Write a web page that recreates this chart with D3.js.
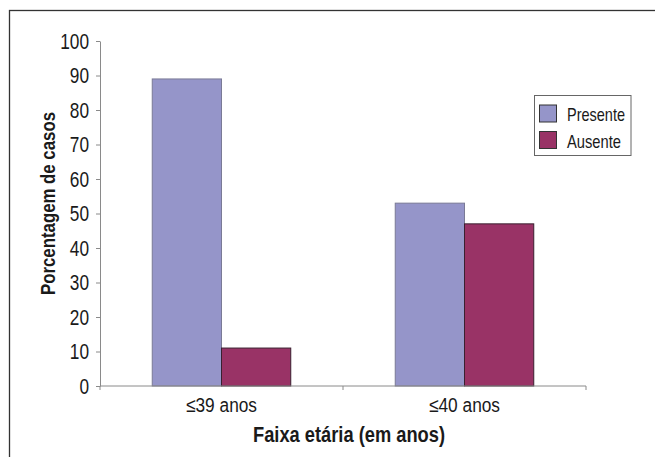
<!DOCTYPE html>
<html>
<head>
<meta charset="utf-8">
<script src="https://cdn.jsdelivr.net/npm/d3@7"></script>
<style>
  html, body { margin: 0; padding: 0; background: #fff; }
  svg { display: block; }
  text { font-family: "Liberation Sans", Arial, sans-serif; fill: #1a1a1a; }
</style>
</head>
<body>
<svg id="chart" width="655" height="457"></svg>
<script>
// Age groups and share of cases (%) for each series
const categories = ["\u226439 anos", "\u226440 anos"];
const seriesNames = ["Presente", "Ausente"];
const presente = [89, 53];
const ausente = [11, 47];
const yTicks = [0, 10, 20, 30, 40, 50, 60, 70, 80, 90, 100];

const colors = { Presente: "#9595c9", Ausente: "#993366" };
const values = { Presente: presente, Ausente: ausente };

const svg = d3.select("#chart");

// condensed look: squeeze glyphs to a set width
function narrow(sel, width) {
  sel.attr("textLength", width).attr("lengthAdjust", "spacingAndGlyphs");
}

// outer frame (open past the bottom/right edges of the page)
svg.append("rect")
  .attr("x", 9.5).attr("y", 10.5)
  .attr("width", 660).attr("height", 470)
  .attr("fill", "none").attr("stroke", "#333").attr("stroke-width", 1.3);

const plot = { left: 100, right: 586, top: 41, bottom: 386 };

const x0 = d3.scaleBand().domain(categories)
  .range([plot.left, plot.right]).paddingInner(0.43).paddingOuter(0.215);
const x1 = d3.scaleBand().domain(seriesNames).range([0, x0.bandwidth()]);
const y = d3.scaleLinear().domain([0, 100]).range([plot.bottom, plot.top]);

// bars
const groups = svg.append("g").selectAll("g").data(categories).join("g")
  .attr("transform", d => `translate(${x0(d)},0)`);
groups.selectAll("rect")
  .data((c, i) => seriesNames.map(s => ({ s, v: values[s][i] })))
  .join("rect")
  .attr("x", d => x1(d.s))
  .attr("y", d => y(d.v))
  .attr("width", x1.bandwidth())
  .attr("height", d => y(0) - y(d.v))
  .attr("fill", d => colors[d.s])
  .attr("stroke", d => d.s === "Presente" ? "#7a7a96" : "#3a2030")
  .attr("stroke-width", 1);

// y axis
const yAxis = svg.append("g")
  .attr("transform", `translate(${plot.left},0)`)
  .call(d3.axisLeft(y).tickValues(yTicks).tickSize(4).tickSizeOuter(0).tickPadding(7));
yAxis.select(".domain").attr("stroke", "#8a8a8a");
yAxis.selectAll(".tick line").attr("stroke", "#8a8a8a");
yAxis.selectAll(".tick text")
  .style("font-size", "22px").attr("fill", "#1a1a1a")
  .each(function (d) { narrow(d3.select(this), String(d).length * 9.6); });

// x axis: ticks sit between the category groups
const xAxisG = svg.append("g").attr("transform", `translate(0,${plot.bottom})`);
xAxisG.append("line")
  .attr("x1", plot.left).attr("x2", plot.right)
  .attr("stroke", "#8a8a8a");
const xEdges = [plot.left, (x0(categories[0]) + x0.bandwidth() + x0(categories[1])) / 2, plot.right];
xAxisG.selectAll("line.tk").data(xEdges).join("line").attr("class", "tk")
  .attr("x1", d => d).attr("x2", d => d).attr("y1", 0).attr("y2", 4)
  .attr("stroke", "#8a8a8a");
xAxisG.selectAll("text").data(categories).join("text")
  .attr("x", d => x0(d) + x0.bandwidth() / 2)
  .attr("y", 26)
  .attr("text-anchor", "middle")
  .style("font-size", "20px")
  .call(narrow, 71)
  .text(d => d);

// axis titles
svg.append("text")
  .attr("transform", `translate(55,203.5) rotate(-90)`)
  .attr("text-anchor", "middle")
  .style("font-size", "21px").style("font-weight", "bold")
  .call(narrow, 183)
  .text("Porcentagem de casos");

svg.append("text")
  .attr("x", 349).attr("y", 442)
  .attr("text-anchor", "middle")
  .style("font-size", "22px").style("font-weight", "bold")
  .call(narrow, 192)
  .text("Faixa et\u00e1ria (em anos)");

// legend
const legendWidths = { Presente: 58, Ausente: 54 };
const legend = svg.append("g").attr("transform", "translate(534.5,95.5)");
legend.append("rect")
  .attr("width", 96.5).attr("height", 60)
  .attr("fill", "#fff").attr("stroke", "#666").attr("stroke-width", 1);
const items = legend.selectAll("g.item").data(seriesNames).join("g").attr("class", "item")
  .attr("transform", (d, i) => `translate(5,${9.5 + i * 26.5})`);
items.append("rect")
  .attr("width", 17).attr("height", 17)
  .attr("fill", d => colors[d]).attr("stroke", "#333").attr("stroke-width", 1);
items.append("text")
  .attr("x", 27.5).attr("y", 16)
  .style("font-size", "19px")
  .each(function (d) { narrow(d3.select(this), legendWidths[d]); })
  .text(d => d);
</script>
</body>
</html>
